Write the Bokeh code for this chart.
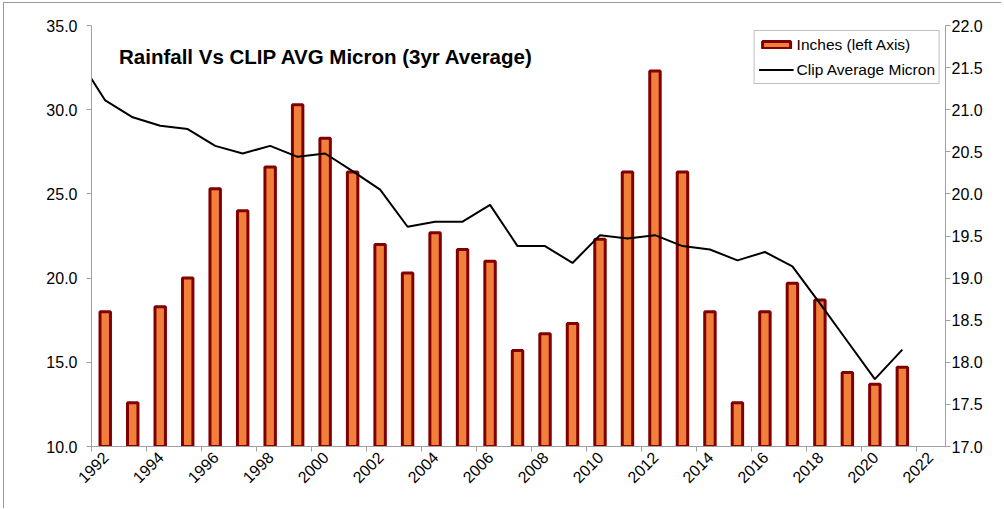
from math import pi
from bokeh.plotting import figure
from bokeh.models import (Range1d, LinearAxis, SingleIntervalTicker, PrintfTickFormatter,
                          Legend, LegendItem, Label, ColumnDataSource)
from bokeh.embed import file_html
from bokeh.resources import INLINE

# ---- data ----
rain_years = list(range(1992, 2022))
rain_inches = [18.0, 12.6, 18.3, 20.0, 25.3, 24.0, 26.6, 30.3, 28.3, 26.3,
               22.0, 20.3, 22.7, 21.7, 21.0, 15.7, 16.7, 17.3, 22.3, 26.3,
               32.3, 26.3, 18.0, 12.6, 18.0, 19.7, 18.7, 14.4, 13.7, 14.7]
micron_years = list(range(1991, 2022))
micron_avg = [21.62, 21.11, 20.91, 20.81, 20.77, 20.57, 20.48, 20.57, 20.44, 20.48,
              20.27, 20.05, 19.61, 19.67, 19.67, 19.87, 19.38, 19.38, 19.18, 19.51,
              19.47, 19.51, 19.38, 19.34, 19.21, 19.31, 19.14, 18.70, 18.25, 17.80,
              18.15]
xtick_years = list(range(1992, 2023, 2))
xtick_labels = [str(y) for y in xtick_years]
title_text = "Rainfall Vs CLIP AVG Micron  (3yr Average)"
bar_label = "Inches (left Axis)"
line_label = "Clip Average Micron"

FONT = "Liberation Sans"
AXIS_GRAY = "#A0A0A0"

bar_src = ColumnDataSource(dict(x=[y + 0.5 for y in rain_years], top=rain_inches))
line_src = ColumnDataSource(dict(x=[y + 0.5 for y in micron_years], y=micron_avg))

p = figure(width=998, height=506, x_range=Range1d(1992, 2023.07), y_range=Range1d(10, 35),
           output_backend="svg", toolbar_location=None,
           min_border_left=87, min_border_right=57, min_border_top=22, min_border_bottom=63)
p.extra_y_ranges = {"micron": Range1d(17, 22)}
p.outline_line_color = None
p.xgrid.visible = False
p.ygrid.visible = False
p.background_fill_color = "white"
p.border_fill_color = "white"
p.styles = {"border-top": "1px solid #9a9a9a", "border-left": "1px solid #9a9a9a",
            "margin-top": "2px", "margin-left": "3px"}

bars = p.vbar(x="x", top="top", bottom=10, width=0.38, source=bar_src,
              fill_color="#F0803A", line_color="#800000", line_width=3)
line = p.line(x="x", y="y", source=line_src, y_range_name="micron",
              line_color="#000000", line_width=2)

def style_axis(ax):
    ax.axis_line_color = AXIS_GRAY
    ax.major_tick_line_color = AXIS_GRAY
    ax.minor_tick_line_color = None
    ax.major_tick_out = 5
    ax.major_tick_in = 0
    ax.major_label_text_font = FONT
    ax.major_label_text_font_size = "16px"
    ax.major_label_text_color = "#000000"

xa = p.xaxis[0]
xa.ticker = SingleIntervalTicker(interval=2)
style_axis(xa)
xa.major_label_orientation = pi / 4
xa.major_label_overrides = {float(y): "\n\n" + t for y, t in zip(xtick_years, xtick_labels)}
xa.major_label_standoff = -11

ya = p.yaxis[0]
ya.ticker = SingleIntervalTicker(interval=5)
ya.formatter = PrintfTickFormatter(format="%.1f")
ya.major_label_standoff = 9
style_axis(ya)

ra = LinearAxis(y_range_name="micron", ticker=SingleIntervalTicker(interval=0.5),
                formatter=PrintfTickFormatter(format="%.1f"))
style_axis(ra)
ra.major_label_standoff = 1
p.add_layout(ra, "right")

p.add_layout(Label(x=1993.0, y=33.15, text=title_text, text_font=FONT,
                   text_font_size="20.5px", text_font_style="bold",
                   text_baseline="alphabetic", text_color="#000000"))

legend = Legend(items=[LegendItem(label=bar_label, renderers=[bars]),
                       LegendItem(label=line_label, renderers=[line])],
                location="top_right")
legend.border_line_color = "#808080"
legend.border_line_width = 1
legend.background_fill_color = "white"
legend.background_fill_alpha = 1
legend.label_text_font = FONT
legend.label_text_font_size = "15.5px"
legend.label_text_color = "#000000"
legend.glyph_width = 35
legend.glyph_height = 9
legend.label_height = 19
legend.spacing = 6
legend.padding = 4
legend.margin = 5
legend.label_standoff = 3
p.add_layout(legend)

open("out.html", "w").write(file_html(p, INLINE))
